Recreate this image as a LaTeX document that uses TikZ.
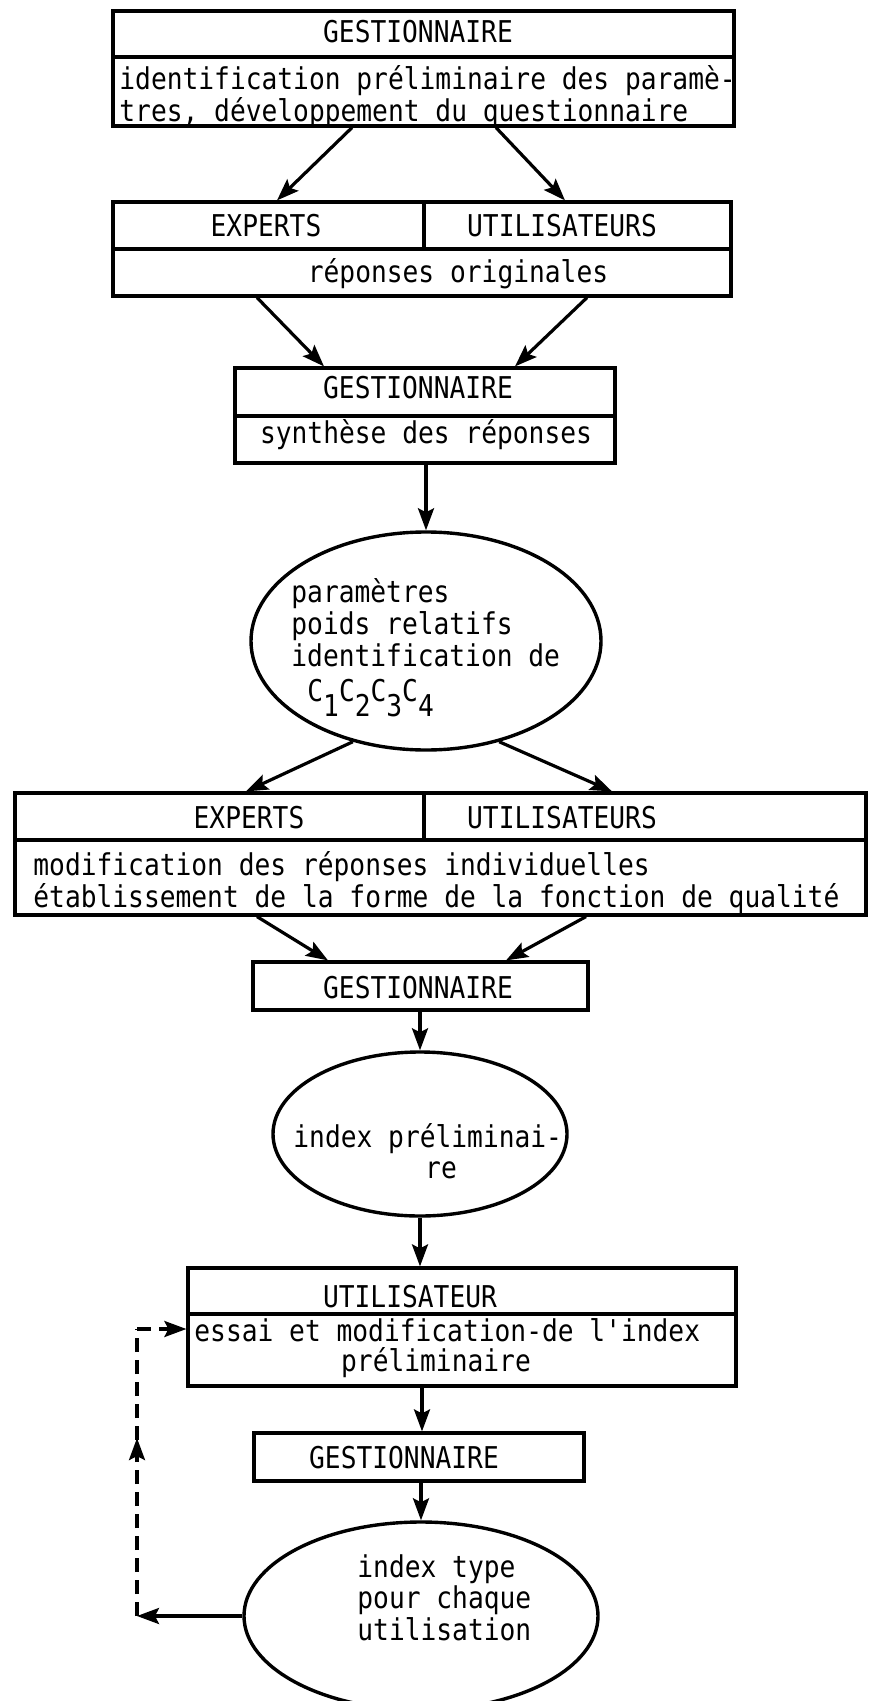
\documentclass[tikz,border=0pt]{standalone}
\usepackage{fontspec}
\setmonofont[FakeStretch=0.875]{DejaVu Sans Mono}
\usetikzlibrary{arrows.meta,fit,shapes.geometric,decorations.markings}
\begin{document}
\begin{tikzpicture}[x=0.5pt,y=-0.5pt,
  every node/.style={font=\ttfamily\fontsize{15}{16}\selectfont, inner sep=0pt},
  box/.style={draw, line width=1.6pt, inner sep=0pt, fit={#1}},
  sep/.style={line width=1.6pt},
  arr/.style={line width=1.6pt, -{Stealth[length=11pt,width=8pt,inset=2pt]}},
  oval/.style={draw, ellipse, line width=1.7pt, inner sep=0pt},
  lbl/.style={anchor=base},
  lbll/.style={anchor=base west},
  dashline/.style={line width=1.6pt, dash pattern=on 7pt off 4pt},
  midup/.style={postaction={decorate}, decoration={markings,
      mark=at position 0.62 with {\arrow{Stealth[length=11pt,width=8pt,inset=2pt]}}}}
]
\useasboundingbox (0,0) rectangle (868,1701);
\clip (0,0) rectangle (868,1701);

% ---- box 1
\node[box={(113,11) (734,126)}] (b1) {};
\draw[sep] (b1.west |- 0,57) -- (b1.east |- 0,57);
\node[lbl] (t1a) at (418,43) {GESTIONNAIRE};
\node[lbll] (t1b) at (119,90) {identification préliminaire des paramè-};
\node[lbll] (t1c) at (119,122) {tres, développement du questionnaire};

% ---- box 2
\node[box={(113,202) (731,296)}] (b2) {};
\draw[sep] (b2.west |- 0,249) -- (b2.east |- 0,249);
\draw[sep] (424,0 |- b2.north) -- (424,249);
\node[lbl] (t2a) at (266,237) {EXPERTS};
\node[lbl] (t2b) at (562,237) {UTILISATEURS};
\node[lbl] (t2c) at (458,283) {réponses originales};

% ---- box 3
\node[box={(235,368) (615,463)}] (b3) {};
\draw[sep] (b3.west |- 0,416) -- (b3.east |- 0,416);
\node[lbl] (t3a) at (418,398) {GESTIONNAIRE};
\node[lbl] (t3b) at (426,443) {synthèse des réponses};

% ---- ellipse 1
\node[oval, minimum width=175pt, minimum height=109pt] (e1) at (426,641) {};
\node[lbll] (te1a) at (291,602) {paramètres};
\node[lbll] (te1b) at (291,634) {poids relatifs};
\node[lbll] (te1c) at (291,666) {identification de};
\node[lbll] (te1d) at (307,701) {C\raisebox{-7.5pt}{1}C\raisebox{-7.5pt}{2}C\raisebox{-7.5pt}{3}C\raisebox{-7.5pt}{4}};

% ---- box 4
\node[box={(15,793) (866,915)}] (b4) {};
\draw[sep] (b4.west |- 0,840) -- (b4.east |- 0,840);
\draw[sep] (424,0 |- b4.north) -- (424,840);
\node[lbl] (t4a) at (249,828) {EXPERTS};
\node[lbl] (t4b) at (562,828) {UTILISATEURS};
\node[lbll] (t4c) at (33,875) {modification des réponses individuelles};
\node[lbll] (t4d) at (33,907) {établissement de la forme de la fonction de qualité};

% ---- box 5
\node[box={(253,962) (588,1010)}] (b5) {};
\node[lbl] (t5) at (418,998) {GESTIONNAIRE};

% ---- ellipse 2
\node[oval, minimum width=147pt, minimum height=82pt] (e2) at (420,1134) {};
\node[lbll] (te2a) at (293,1147) {index préliminai-};
\node[lbl] (te2b) at (441,1178) {re};

% ---- box 6
\node[box={(188,1268) (736,1386)}] (b6) {};
\draw[sep] (b6.west |- 0,1314) -- (b6.east |- 0,1314);
\node[lbl] (t6a) at (410,1307) {UTILISATEUR};
\node[lbll] (t6b) at (194,1341) {essai et modification-de l'index};
\node[lbl] (t6c) at (436,1371) {préliminaire};

% ---- box 7
\node[box={(254,1433) (584,1481)}] (b7) {};
\node[lbl] (t7) at (404,1468) {GESTIONNAIRE};

% ---- ellipse 3
\node[oval, minimum width=177pt, minimum height=94pt] (e3) at (421,1616) {};
\node[lbll] (te3a) at (357,1577) {index type};
\node[lbll] (te3b) at (357,1608) {pour chaque};
\node[lbll] (te3c) at (357,1640) {utilisation};

% ---- connectors
\draw[arr] (352,0 |- b1.south) -- (277,0 |- b2.north);
\draw[arr] (496,0 |- b1.south) -- (565,0 |- b2.north);
\draw[arr] (257,0 |- b2.south) -- (324,0 |- b3.north);
\draw[arr] (587,0 |- b2.south) -- (515,0 |- b3.north);
\draw[arr] (e1.north |- b3.south) -- (e1.north);
\draw[arr] (e1.234) -- (246,0 |- b4.north);
\draw[arr] (e1.306) -- (612,0 |- b4.north);
\draw[arr] (257,0 |- b4.south) -- (328,0 |- b5.north);
\draw[arr] (586,0 |- b4.south) -- (506,0 |- b5.north);
\draw[arr] (e2.north |- b5.south) -- (e2.north);
\draw[arr] (e2.south) -- (e2.south |- b6.north);
\draw[arr] (422,0 |- b6.south) -- (422,0 |- b7.north);
\draw[arr] (e3.north |- b7.south) -- (e3.north);

% ---- feedback loop
\coordinate (fbB) at (137,1616);
\coordinate (fbT) at (137,1329);
\draw[arr] (e3.west) -- (fbB);
\draw[dashline, midup] (fbB) -- (fbT);
\draw[dashline, arr] (fbT) -- (b6.west |- fbT);
\end{tikzpicture}
\end{document}
